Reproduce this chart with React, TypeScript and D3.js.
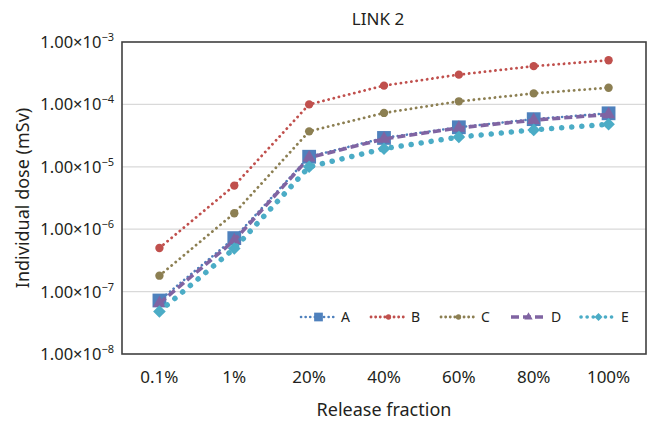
import { useEffect, useRef } from 'react';
import * as d3 from 'd3';

const categories = ['0.1%', '1%', '20%', '40%', '60%', '80%', '100%'];
const seriesNames = ['A', 'B', 'C', 'D', 'E'];
const valuesA = [7.2e-8, 7.2e-7, 1.45e-5, 2.9e-5, 4.3e-5, 5.8e-5, 7.2e-5];
const valuesB = [5.0e-7, 5.0e-6, 1.0e-4, 2.0e-4, 3.0e-4, 4.1e-4, 5.1e-4];
const valuesC = [1.8e-7, 1.8e-6, 3.7e-5, 7.3e-5, 1.12e-4, 1.5e-4, 1.85e-4];
const valuesD = [6.5e-8, 6.6e-7, 1.4e-5, 2.8e-5, 4.2e-5, 5.6e-5, 6.9e-5];
const valuesE = [4.8e-8, 4.9e-7, 1.0e-5, 1.95e-5, 3.0e-5, 3.9e-5, 4.8e-5];
const yTicks = [1e-8, 1e-7, 1e-6, 1e-5, 1e-4, 1e-3];

const styles = [
	{ color: '#4f81bd', dash: '0.1 4.5', width: 2.6, marker: 'square', size: 190 },
	{ color: '#c0504d', dash: '0.1 5.2', width: 2.8, marker: 'circle', size: 55 },
	{ color: '#8c7f52', dash: '0.1 5.2', width: 2.8, marker: 'circle', size: 55 },
	{ color: '#8064a2', dash: '8 4', width: 3.6, marker: 'triangle', size: 75 },
	{ color: '#4bacc6', dash: '0.1 10', width: 5.5, marker: 'diamond', size: 80 },
];

const App = () => {
	const ref = useRef(null);
	useEffect(() => {
		const margin = { top: 42, right: 8, bottom: 67, left: 122 },
			width = 654 - margin.left - margin.right,
			height = 421 - margin.top - margin.bottom;
		const font = '"Noto Sans", sans-serif';
		const textColor = '#231f20';

		const svg = d3.select(ref.current).attr('width', 654).attr('height', 421);
		svg.selectAll('*').remove();

		const x = d3.scaleBand().domain(categories).range([0, width]).padding(0);
		const y = d3.scaleLog().domain([1e-8, 1e-3]).range([height, 0]);
		const g = svg.append('g').attr('transform', `translate(${margin.left},${margin.top})`);

		// gridlines
		g.selectAll('.grid')
			.data(yTicks.slice(1, -1))
			.enter()
			.append('line')
			.attr('x1', 0)
			.attr('x2', width)
			.attr('y1', (d) => y(d))
			.attr('y2', (d) => y(d))
			.attr('stroke', '#d9d9d9')
			.attr('stroke-width', 1.2);

		// y tick labels with superscript
		const exps = yTicks.map((d) => Math.round(Math.log10(d)));
		const yl = g
			.selectAll('.ylab')
			.data(yTicks)
			.enter()
			.append('text')
			.attr('x', -8)
			.attr('y', (d) => y(d) + 6)
			.attr('text-anchor', 'end')
			.attr('font-family', font)
			.attr('font-size', 16.5)
			.attr('fill', textColor);
		yl.append('tspan').text('1.00×10');
		yl.append('tspan')
			.attr('dy', -7)
			.attr('font-size', 11)
			.text((d, i) => '−' + Math.abs(exps[i]));

		// x tick labels
		g.selectAll('.xlab')
			.data(categories)
			.enter()
			.append('text')
			.attr('x', (d) => x(d) + x.bandwidth() / 2)
			.attr('y', height + 29)
			.attr('text-anchor', 'middle')
			.attr('font-family', font)
			.attr('font-size', 17)
			.attr('fill', textColor)
			.text((d) => d);

		const allValues = [valuesA, valuesB, valuesC, valuesD, valuesE];
		const line = d3
			.line()
			.x((d, i) => x(categories[i]) + x.bandwidth() / 2)
			.y((d) => y(d));
		const symbolOf = (m) =>
			m === 'square' || m === 'diamond'
				? d3.symbolSquare
				: m === 'triangle'
				? d3.symbolTriangle
				: d3.symbolCircle;
		const rot = (m) => (m === 'diamond' ? ' rotate(45)' : '');

		allValues.forEach((vals, si) => {
			const s = styles[si];
			g.append('path')
				.datum(vals)
				.attr('d', line)
				.attr('fill', 'none')
				.attr('stroke', s.color)
				.attr('stroke-width', s.width)
				.attr('stroke-linecap', s.marker === 'triangle' ? 'butt' : 'round')
				.attr('stroke-dasharray', s.dash);
			g.selectAll('.m' + si)
				.data(vals)
				.enter()
				.append('path')
				.attr(
					'transform',
					(d, i) => `translate(${x(categories[i]) + x.bandwidth() / 2},${y(d)})${rot(s.marker)}`
				)
				.attr('d', d3.symbol().type(symbolOf(s.marker)).size(s.size))
				.attr('fill', s.color);
		});

		// frame
		g.append('rect')
			.attr('width', width)
			.attr('height', height)
			.attr('fill', 'none')
			.attr('stroke', '#404040')
			.attr('stroke-width', 1.6);

		// legend
		const legend = g
			.selectAll('.leg')
			.data(seriesNames)
			.enter()
			.append('g')
			.attr('transform', (d, i) => `translate(${179 + i * 70},${275})`);
		legend
			.append('line')
			.attr('x1', 0)
			.attr('x2', 35)
			.attr('stroke', (d, i) => styles[i].color)
			.attr('stroke-width', (d, i) => Math.min(styles[i].width, 3.6))
			.attr('stroke-linecap', (d, i) => (i === 3 ? 'butt' : 'round'))
			.attr('stroke-dasharray', (d, i) => (i === 3 ? '8 4' : i === 4 ? '0.1 6' : '0.1 4.5'));
		legend
			.append('path')
			.attr('transform', (d, i) => `translate(17.5,0)${rot(styles[i].marker)}`)
			.attr('d', (d, i) =>
				d3.symbol().type(symbolOf(styles[i].marker)).size(styles[i].size * 0.4)()
			)
			.attr('fill', (d, i) => styles[i].color);
		legend
			.append('text')
			.attr('x', 40)
			.attr('y', 5)
			.attr('font-family', font)
			.attr('font-size', 14)
			.attr('fill', textColor)
			.text((d) => d);

		// titles
		svg.append('text')
			.attr('x', 378)
			.attr('y', 25)
			.attr('text-anchor', 'middle')
			.attr('font-family', font)
			.attr('font-size', 17)
			.attr('fill', textColor)
			.text('LINK 2');
		svg.append('text')
			.attr('x', margin.left + width / 2)
			.attr('y', 416)
			.attr('text-anchor', 'middle')
			.attr('font-family', font)
			.attr('font-size', 18)
			.attr('fill', textColor)
			.text('Release fraction');
		svg.append('text')
			.attr('transform', `translate(29,${margin.top + height / 2}) rotate(-90)`)
			.attr('text-anchor', 'middle')
			.attr('font-family', font)
			.attr('font-size', 18)
			.attr('fill', textColor)
			.text('Individual dose (mSv)');
	}, []);
	return <svg ref={ref} style={{ position: 'absolute', left: 0, top: 0 }} />;
};

export default App;
